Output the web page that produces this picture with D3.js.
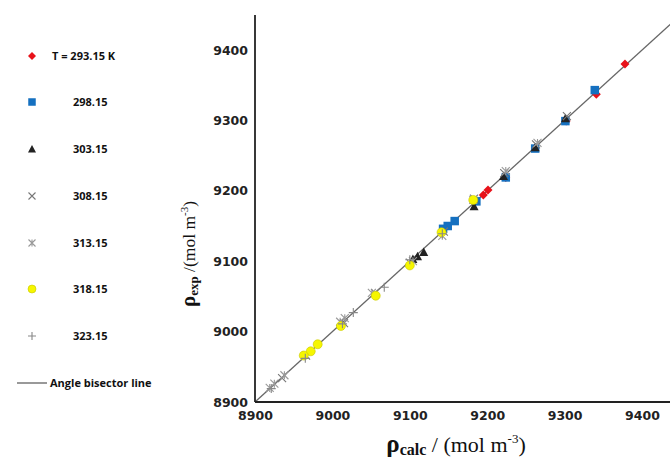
<!DOCTYPE html>
<html><head><meta charset="utf-8">
<script src="https://cdn.jsdelivr.net/npm/d3@7"></script>
<style>body{margin:0;background:#fff}svg{display:block}</style>
</head><body>
<svg id="c" width="670" height="461"></svg>
<script>
// tick values
const xTicks = [8900, 9000, 9100, 9200, 9300, 9400];
const yTicks = [8900, 9000, 9100, 9200, 9300, 9400];
// series: [calc, exp]
const s293 = [[9378,9380],[9341,9337],[9302,9299],[9224,9219],[9201,9201],[9195,9194]];
const s298 = [[9339,9343],[9301,9299],[9262,9260],[9224,9219],[9158,9157],[9149,9150],[9143,9146],[9186,9185]];
const s303 = [[9301,9303],[9262,9262],[9221,9221],[9183,9178],[9118,9113],[9110,9107],[9104,9103]];
const s308 = [[9303,9306],[9263,9266],[9222,9225],[9183,9189],[9144,9142],[9100,9098],[9055,9055],[9015,9012],[8966,8966],[8935,8934]];
const s313 = [[9265,9268],[9224,9228],[9182,9187],[9142,9136],[9104,9100],[9051,9055],[9016,9019],[9010,9014],[8938,8938],[8925,8926],[8919,8920]];
const s318 = [[9182,9187],[9141,9141],[9100,9094],[9056,9051],[9011,9008],[8981,8982],[8972,8972],[8963,8966]];
const s323 = [[9067,9063],[9027,9027],[9013,9011],[8965,8962],[8921,8919],[9100,9102],[9142,9139]];
const labels = ["T = 293.15 K","298.15","303.15","308.15","313.15","318.15","323.15"];
const lineLabel = "Angle bisector line";

const series = [
  {data:s293, type:"diamond", fill:"#e8121a", stroke:"none", size:8},
  {data:s298, type:"square", fill:"#1570c0", stroke:"none", size:8.5},
  {data:s303, type:"triangle", fill:"#222", stroke:"none", size:8},
  {data:s308, type:"x", fill:"none", stroke:"#777", size:8},
  {data:s313, type:"star", fill:"none", stroke:"#999", size:8},
  {data:s318, type:"circle", fill:"#f6f600", stroke:"#c8c800", size:9},
  {data:s323, type:"plus", fill:"none", stroke:"#888", size:9}
];

const svg = d3.select("#c");
const x = d3.scaleLinear().domain([8900, 9400]).range([255, 642]);
const y = d3.scaleLinear().domain([8900, 9400]).range([402, 50]);

function marker(g, type, s, fill, stroke){
  const h = s/2;
  if(type==="diamond") g.append("path").attr("d",`M0,${-h-0.5}L${h+0.5},0L0,${h+0.5}L${-h-0.5},0Z`).attr("fill",fill);
  else if(type==="square") g.append("rect").attr("x",-h).attr("y",-h).attr("width",s).attr("height",s).attr("fill",fill);
  else if(type==="triangle") g.append("path").attr("d",`M0,${-h-0.5}L${h+0.5},${h}L${-h-0.5},${h}Z`).attr("fill",fill);
  else if(type==="circle") g.append("circle").attr("r",h).attr("fill",fill).attr("stroke",stroke).attr("stroke-width",0.6);
  else if(type==="x") g.append("path").attr("d",`M${-h},${-h}L${h},${h}M${h},${-h}L${-h},${h}`).attr("stroke",stroke).attr("stroke-width",1.1);
  else if(type==="star") g.append("path").attr("d",`M${-h},${-h}L${h},${h}M${h},${-h}L${-h},${h}M0,${-h}L0,${h}`).attr("stroke",stroke).attr("stroke-width",1.1);
  else if(type==="plus") g.append("path").attr("d",`M0,${-h}L0,${h}M${-h},0L${h},0`).attr("stroke",stroke).attr("stroke-width",1.1);
}

// bisector line
const lineEnd = 9440;
svg.append("line").attr("x1",x(8900)).attr("y1",y(8900)).attr("x2",x(lineEnd)).attr("y2",y(lineEnd))
  .attr("stroke","#666").attr("stroke-width",1.3);

// axes
const xAxis = svg.append("g").attr("transform",`translate(0,${y(8900)})`)
  .call(d3.axisBottom(x).tickValues(xTicks).tickSize(0).tickPadding(9).tickFormat(d3.format("d")));
xAxis.select(".domain").remove();
svg.append("line").attr("x1",x(8900)).attr("x2",670).attr("y1",y(8900)).attr("y2",y(8900)).attr("stroke","#222").attr("stroke-width",1.8);
const yAxis = svg.append("g").attr("transform",`translate(${x(8900)},0)`)
  .call(d3.axisLeft(y).tickValues(yTicks).tickSize(0).tickPadding(7).tickFormat(d3.format("d")));
yAxis.select(".domain").remove();
svg.append("line").attr("x1",x(8900)).attr("x2",x(8900)).attr("y1",15).attr("y2",y(8900)).attr("stroke","#222").attr("stroke-width",1.8);
svg.selectAll(".tick text").attr("font-family","'DejaVu Sans', Verdana, sans-serif").attr("font-weight","bold")
  .attr("font-size","12.5px").attr("fill","#222");

// points
series.forEach(sr=>{
  sr.data.forEach(d=>{
    const g = svg.append("g").attr("transform",`translate(${x(d[0])},${y(d[1])})`);
    marker(g, sr.type, sr.size, sr.fill, sr.stroke);
  });
});

// axis titles
const xt = svg.append("text").attr("x",456).attr("y",452).attr("text-anchor","middle")
  .attr("font-family","'Liberation Serif','Times New Roman',serif").attr("font-size","22px").attr("fill","#111");
xt.append("tspan").attr("font-weight","bold").attr("font-size","25px").text("ρ");
xt.append("tspan").attr("font-weight","bold").attr("font-size","16px").attr("dy","3").text("calc");
xt.append("tspan").attr("dy","-3").text(" / (mol m");
xt.append("tspan").attr("font-size","13px").attr("dy","-9").text("-3");
xt.append("tspan").attr("dy","9").text(")");

const yt = svg.append("text").attr("transform","translate(195,254) rotate(-90)").attr("text-anchor","middle")
  .attr("font-family","'Liberation Serif','Times New Roman',serif").attr("font-size","17.5px").attr("fill","#111");
yt.append("tspan").attr("font-weight","bold").attr("font-size","21px").text("ρ");
yt.append("tspan").attr("font-weight","bold").attr("font-size","13px").attr("dy","3").text("exp");
yt.append("tspan").attr("dy","-3").text(" /(mol m");
yt.append("tspan").attr("font-size","11px").attr("dy","-7").text("-3");
yt.append("tspan").attr("dy","7").text(")");

// legend
const legY = [56, 102, 149, 196, 243, 289, 336];
series.forEach((sr,i)=>{
  const g = svg.append("g").attr("transform",`translate(32,${legY[i]})`);
  marker(g, sr.type, sr.size-1, sr.fill, sr.stroke);
  svg.append("text").attr("x", i===0 ? 52 : 73).attr("y", legY[i]+4)
    .attr("font-family","'Open Sans', sans-serif").attr("font-weight","700").attr("font-size","11px").attr("fill","#111")
    .text(labels[i]);
});
svg.append("line").attr("x1",17).attr("x2",47).attr("y1",383).attr("y2",383).attr("stroke","#555").attr("stroke-width",1.2);
svg.append("text").attr("x",50).attr("y",387).attr("font-family","'Open Sans', sans-serif").attr("font-weight","700")
  .attr("font-size","11px").attr("fill","#111").text(lineLabel);
</script>
</body></html>
